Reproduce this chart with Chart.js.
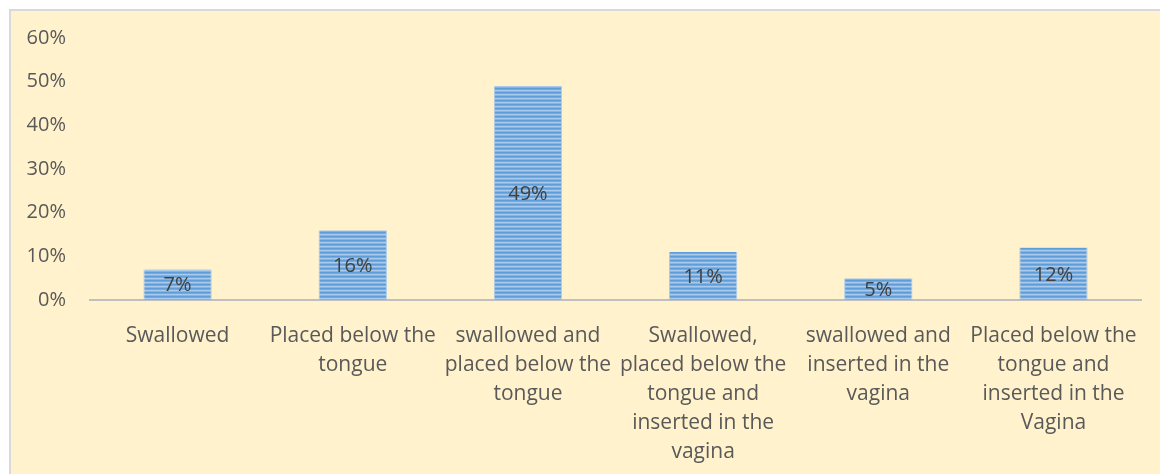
<!DOCTYPE html>
<html>
<head>
<meta charset="utf-8">
<script src="https://cdn.jsdelivr.net/npm/chart.js@4/dist/chart.umd.min.js"></script>
<style>
  body { margin: 0; background: #ffffff; }
  #wrap { position: absolute; left: 0; top: 0; width: 1160px; height: 474px; overflow: hidden; }
  #fondo { position: absolute; left: 9px; top: 9px; width: 1160px; height: 480px; background: #FFF2CC; border: 2px solid #D9D9D9; }
  #grafico { position: absolute; left: 0; top: 0; }
</style>
</head>
<body>
<div id="wrap">
  <div id="fondo"></div>
  <canvas id="grafico" width="1160" height="474"></canvas>
</div>
<script>
// categorias (cada una partida en lineas como en la imagen)
const categorias = [
    ["Swallowed"],
    ["Placed below the", "tongue"],
    ["swallowed and", "placed below the", "tongue"],
    ["Swallowed,", "placed below the", "tongue and", "inserted in the", "vagina"],
    ["swallowed and", "inserted in the", "vagina"],
    ["Placed below the", "tongue and", "inserted in the", "Vagina"]
];
const valores = [0.07, 0.16, 0.49, 0.11, 0.05, 0.12];
const etiquetas = ["7%", "16%", "49%", "11%", "5%", "12%"];

const fuente = "'Open Sans', 'Noto Sans', sans-serif";

// patron de rayas horizontales para las barras
function crearPatron() {
    const c = document.createElement("canvas");
    c.width = 4;
    c.height = 4;
    const g = c.getContext("2d");
    const colores = ["#5F9DD8", "#72A9E0", "#AACBEE", "#82B4E4"];
    colores.forEach((col, i) => {
        g.fillStyle = col;
        g.fillRect(0, i, 4, 1);
    });
    return g.createPattern(c, "repeat");
}

// etiquetas de datos dentro de las barras
const etiquetasPlugin = {
    id: "etiquetas",
    afterDatasetsDraw(chart) {
        const ctx = chart.ctx;
        const meta = chart.getDatasetMeta(0);
        ctx.save();
        ctx.font = "20px " + fuente;
        ctx.fillStyle = "#404040";
        ctx.textAlign = "center";
        ctx.textBaseline = "middle";
        meta.data.forEach((bar, i) => {
            const y = (bar.y + bar.base) / 2;
            ctx.fillText(etiquetas[i], bar.x, y + 1);
        });
        ctx.restore();
    }
};

const ctx = document.getElementById("grafico").getContext("2d");

new Chart(ctx, {
    type: "bar",
    data: {
        labels: categorias,
        datasets: [{
            data: valores,
            backgroundColor: crearPatron(),
            borderColor: "#A9CBEE",
            borderWidth: { left: 1, right: 1, top: 0, bottom: 0 },
            borderSkipped: false,
            categoryPercentage: 1,
            barPercentage: 0.39
        }]
    },
    options: {
        responsive: false,
        animation: false,
        layout: { padding: { left: 0, right: 17, top: 38, bottom: 0 } },
        plugins: {
            legend: { display: false },
            tooltip: { enabled: false }
        },
        scales: {
            y: {
                min: 0,
                max: 0.6,
                afterFit(scale) { scale.width = 90; },
                grid: { display: false, drawTicks: false },
                border: { display: false },
                ticks: {
                    stepSize: 0.1,
                    padding: 24,
                    color: "#595959",
                    font: { size: 20, family: fuente },
                    callback: v => Math.round(v * 100) + "%"
                }
            },
            x: {
                afterFit(scale) { scale.height = 174; },
                grid: { display: false, drawTicks: false },
                border: { color: "#BFBFBF", width: 2 },
                ticks: {
                    padding: 22,
                    maxRotation: 0,
                    autoSkip: false,
                    color: "#595959",
                    font: { size: 21, family: fuente, lineHeight: 1.38 }
                }
            }
        }
    },
    plugins: [etiquetasPlugin]
});
</script>
</body>
</html>
